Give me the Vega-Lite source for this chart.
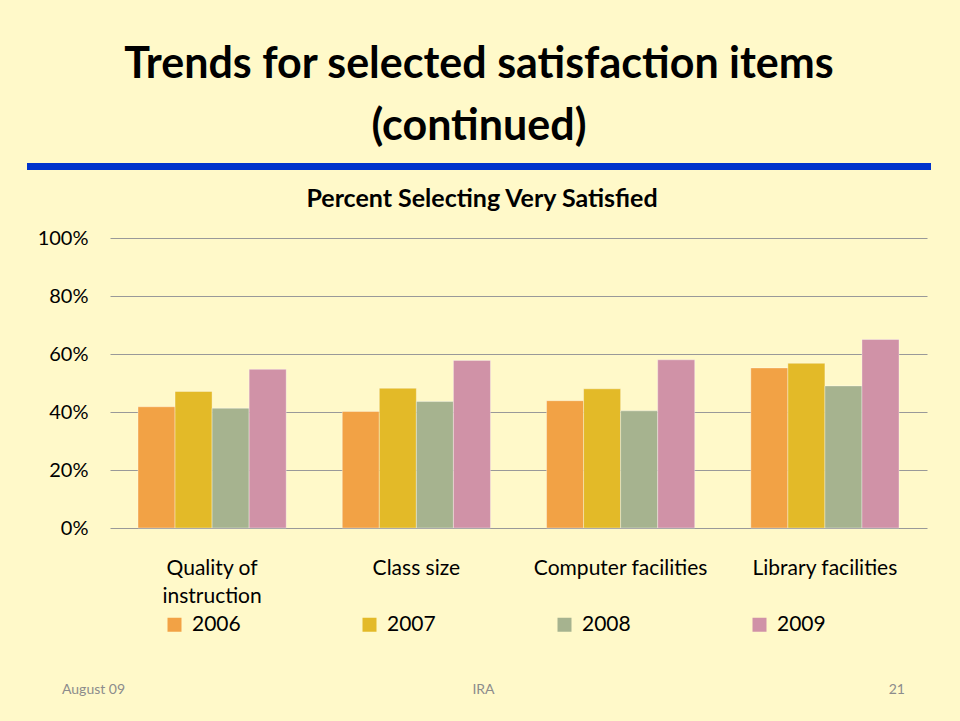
{
  "$schema": "https://vega.github.io/schema/vega-lite/v6.json",
  "background": "#FFF9C9",
  "padding": {"left": 27, "top": 43, "right": 29, "bottom": 7},
  "config": {"font": "Lato", "view": {"stroke": null}},
  "spacing": 15,
  "resolve": {"scale": {"color": "independent"}, "legend": {"color": "independent"}},
  "vconcat": [
    {
      "width": 904,
      "height": 7,
      "view": {"fill": "#0033CC", "stroke": null},
      "title": {
        "text": ["Trends for selected satisfaction items", "(continued)"],
        "fontSize": 43,
        "fontWeight": "bold",
        "color": "#000000",
        "lineHeight": 62,
        "anchor": "middle",
        "frame": "group",
        "offset": 12
      },
      "data": {"values": [{"t": ""}]},
      "mark": {"type": "text"},
      "encoding": {"text": {"field": "t"}}
    },
    {
      "spacing": 0,
      "resolve": {"scale": {"color": "independent"}, "legend": {"color": "independent"}},
      "hconcat": [
        {
          "width": 10,
          "height": 1,
          "data": {"values": [{"t": ""}]},
          "mark": {"type": "text"},
          "encoding": {"text": {"field": "t"}}
        },
        {
          "width": 817,
          "height": 290,
          "title": {
            "text": "Percent Selecting Very Satisfied",
            "fontSize": 25,
            "fontWeight": "bold",
            "color": "#000000",
            "anchor": "middle",
            "frame": "bounds",
            "offset": 16
          },
          "data": {
            "values": [
              {"item": "Quality of instruction", "year": "2006", "pct": 41.8},
              {"item": "Quality of instruction", "year": "2007", "pct": 47.1},
              {"item": "Quality of instruction", "year": "2008", "pct": 41.3},
              {"item": "Quality of instruction", "year": "2009", "pct": 54.7},
              {"item": "Class size", "year": "2006", "pct": 40.2},
              {"item": "Class size", "year": "2007", "pct": 48.2},
              {"item": "Class size", "year": "2008", "pct": 43.6},
              {"item": "Class size", "year": "2009", "pct": 57.8},
              {"item": "Computer facilities", "year": "2006", "pct": 43.9},
              {"item": "Computer facilities", "year": "2007", "pct": 48.0},
              {"item": "Computer facilities", "year": "2008", "pct": 40.4},
              {"item": "Computer facilities", "year": "2009", "pct": 58.0},
              {"item": "Library facilities", "year": "2006", "pct": 55.2},
              {"item": "Library facilities", "year": "2007", "pct": 56.8},
              {"item": "Library facilities", "year": "2008", "pct": 49.0},
              {"item": "Library facilities", "year": "2009", "pct": 65.0}
            ]
          },
          "mark": {"type": "bar", "stroke": "#ffffff", "strokeOpacity": 0.35, "strokeWidth": 1},
          "encoding": {
            "x": {
              "field": "item",
              "type": "nominal",
              "sort": null,
              "scale": {"paddingInner": 0.2745, "paddingOuter": 0.137},
              "axis": {
                "title": null,
                "labelAngle": 0,
                "labelFontSize": 21,
                "labelColor": "#000000",
                "ticks": false,
                "domain": false,
                "labelPadding": 29,
                "labelLineHeight": 28,
                "labelExpr": "datum.label == 'Quality of instruction' ? ['Quality of', 'instruction'] : datum.label"
              }
            },
            "xOffset": {"field": "year", "type": "nominal", "scale": {"paddingInner": 0, "paddingOuter": 0}},
            "y": {
              "field": "pct",
              "type": "quantitative",
              "scale": {"domain": [0, 100]},
              "axis": {
                "title": null,
                "values": [0, 20, 40, 60, 80, 100],
                "labelExpr": "datum.value + '%'",
                "grid": true,
                "gridColor": "#999999",
                "gridWidth": 1,
                "domain": false,
                "ticks": false,
                "labelFontSize": 20,
                "labelColor": "#000000",
                "labelPadding": 22,
                "minExtent": 73
              }
            },
            "color": {
              "field": "year",
              "type": "nominal",
              "scale": {"domain": ["2006", "2007", "2008", "2009"], "range": ["#F2A245", "#E3BA28", "#A6B38F", "#D092A7"]},
              "legend": {
                "title": null,
                "orient": "none",
                "legendX": 54,
                "legendY": 376,
                "direction": "horizontal",
                "columns": 4,
                "symbolType": "square",
                "symbolSize": 196,
                "symbolStrokeWidth": 0,
                "labelFontSize": 21,
                "labelColor": "#000000",
                "labelOffset": 7,
                "columnPadding": 118
              }
            }
          }
        }
      ]
    },
    {
      "width": 904,
      "height": 66,
      "data": {"values": [{"footer": "August 09"}, {"footer": "IRA"}, {"footer": "21"}]},
      "encoding": {
        "x": {"field": "footer", "type": "nominal", "sort": null, "scale": {"type": "point", "range": [35, 878], "padding": 0}, "axis": null},
        "text": {"field": "footer"}
      },
      "layer": [
        {"transform": [{"filter": "datum.footer == 'August 09'"}], "mark": {"type": "text", "align": "left", "baseline": "top", "fontSize": 14, "color": "#8c8c8c"}},
        {"transform": [{"filter": "datum.footer == 'IRA'"}], "mark": {"type": "text", "align": "center", "baseline": "top", "fontSize": 14, "color": "#8c8c8c"}},
        {"transform": [{"filter": "datum.footer == '21'"}], "mark": {"type": "text", "align": "right", "baseline": "top", "fontSize": 14, "color": "#8c8c8c"}}
      ]
    }
  ]
}
